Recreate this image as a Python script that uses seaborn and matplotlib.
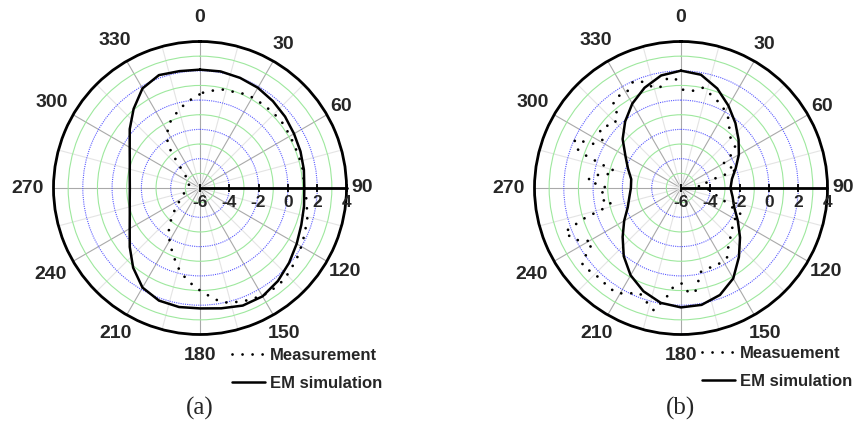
import numpy as np
import pandas as pd
import matplotlib
matplotlib.use("Agg")
import matplotlib.pyplot as plt
import seaborn as sns
from matplotlib.lines import Line2D

# ---------------- data ----------------
sim_angles = list(range(0, 370, 10))  # degrees, closed loop
sim_a = [2.08, 2.08, 2.0, 1.9, 1.74, 1.58, 1.41, 1.3, 1.2, 1.12, 1.21, 1.36,
         1.62, 1.94, 2.28, 2.54, 2.54, 2.34, 2.22, 2.25, 2.18, 1.85, 1.1, 0.26,
         -0.46, -0.9, -1.13, -1.21, -1.13, -0.9, -0.46, 0.26, 1.05, 1.85, 2.2, 2.1,
         2.08]
sim_b = [2.01, 1.85, 1.23, 0.48, -0.22, -0.87, -1.44, -2.02, -2.47, -2.62, -2.42, -2.13,
         -1.52, -0.74, 0.15, 1.13, 1.77, 2.1, 2.15, 1.96, 1.5, 0.88, 0.08, -0.8,
         -1.52, -2.13, -2.42, -2.58, -2.55, -2.15, -1.62, -0.8, -0.07, 0.65, 1.28, 1.8,
         2.01]

meas_a_angles = [1.8, 7.6, 13.2, 19, 24.6, 30.5, 37.2, 44.2, 51.6, 58, 64.2, 71.4, 78.4,
                 83.9, 88.3, 96, 105.2, 111.8, 118.3, 125.4, 132.3, 137.9, 142.9, 147.5,
                 152.4, 157.2, 163.9, 168.6, 173.3, 177.3, 182.9, 189.6, 195.6, 200.6,
                 206.2, 212.3, 218.5, 224, 231.6, 243.4, 296.6, 310.9, 317.6, 320.7,
                 323.3, 328.1, 334.2, 342, 349.9, 356.9, 361.8]
meas_a = [0.51, 0.71, 0.90, 0.95, 1.08, 1.15, 1.14, 1.17, 1.17, 1.11, 1.08, 1.08, 1.13,
          1.10, 1.12, 1.3, 1.60, 1.74, 1.94, 2.15, 2.34, 2.49, 2.51, 2.53,
          2.42, 2.32, 2.13, 1.97, 1.59, 1.20, 0.79, 0.18, -0.38, -0.95,
          -1.50, -2.03, -2.59, -3.24, -3.90, -4.62, -5.23, -4.64, -3.87, -3.08,
          -2.33, -1.73, -1.13, -0.67, -0.16, 0.24, 0.51]

meas_b_angles = [1.2, 7, 12.4, 19.4, 26.6, 33.9, 38.2, 43.9, 52.8, 56.6, 60.3, 68.6, 71.3,
                 73, 73.4, 77.5, 83, 94, 99, 106, 114, 121.6, 128, 135.6, 142, 146.3,
                 154.9, 161.4, 167.3, 169.7, 172.3, 176, 179.4, 184.6, 186.9, 192.5,
                 196.6, 201.3, 206.8, 211, 215.4, 220.7, 226.3, 230.2, 233.2, 235.5,
                 238.5, 241.6, 243.9, 249.2, 250.8, 252.6, 253.8, 255.3, 258.5, 261.4,
                 266.4, 270, 272, 275, 278.7, 279.8, 284.4, 286.1, 287.6, 289, 290.9,
                 294.4, 295.6, 296.8, 302, 305.6, 309.9, 314, 319.2, 320.7, 324.9, 330.4,
                 335, 339, 344, 348.1, 353.3, 357.9]
meas_b = [0.71, 0.69, 1.01, 0.61, 0.28, -0.23, -0.68, -1.16, -1.36, -1.9, -2.69, -2.25,
          -1.95, -2.49, -3.36, -4.1, -4.83, -4.0, -3.78, -3.0, -1.45, -1.82, -1.56, -1.2,
          -0.78, -0.32, -0.18, -0.22, -0.1, 0.54, 1.19, 1.14, 0.51, 0.8, 1.38, 2.56,
          2.15, 1.72, 2.05, 2.39, 2.4, 2.31, 2.33, 2.56, 2.47, 1.73,
          1.07, 1.48, 2.08, 2.5, 1.69, 0.89, 0.14, -0.62, -1.18, -0.53,
          -0.58, -1.0, -0.38, 0.39, -0.11, -0.79, -1.33, -0.58, 0.11, 0.95, 1.7,
          1.97, 1.29, 0.68, 0.25, 0.82, 0.61, 0.3, 0.6, 1.35, 1.62, 1.49,
          1.94, 1.85, 1.19, 1.0, 1.59, 1.4]

angle_labels = ["0", "30", "60", "90", "120", "150", "180", "210", "240", "270", "300", "330"]
angle_ticks = [0, 30, 60, 90, 120, 150, 180, 210, 240, 270, 300, 330]
r_ticks = [-6, -4, -2, 0, 2, 4]
r_minor = [-5, -3, -1, 1, 3]
legend_a = ["Measurement", "EM simulation"]
legend_b = ["Measuement", "EM simulation"]

# ---------------- style ----------------
sns.set_style("white")
plt.rcParams["font.family"] = ["Liberation Sans", "DejaVu Sans"]

W, H = 862, 425
fig = plt.figure(figsize=(W / 100, H / 100), dpi=100)
R = 146.5
CY = 188
label_r_px = [170, 166, 163, 162, 167, 168, 167, 168, 172, 172, 171, 170]
PX_PER_DB = R / 10.0
DOT = (0, (0.01, 3.6))


def make_ax(cx):
    ax = fig.add_axes([(cx - R) / W, (H - CY - R) / H, 2 * R / W, 2 * R / H],
                      projection="polar")
    ax.set_theta_zero_location("N")
    ax.set_theta_direction(-1)
    ax.set_ylim(-6, 4)
    ax.set_xticks(np.deg2rad(angle_ticks))
    ax.set_xticks(np.deg2rad([a + 15 for a in angle_ticks]), minor=True)
    ax.set_xticklabels([])
    ax.set_yticks(r_ticks)
    ax.set_yticks(r_minor, minor=True)
    ax.set_yticklabels([])
    ax.set_yticklabels([], minor=True)
    ax.tick_params(axis="x", which="major", direction="in", length=7, width=1.3, color="k")
    ax.tick_params(axis="x", which="minor", direction="in", length=4, width=1.1, color="k")
    ax.tick_params(axis="y", which="both", length=0)
    ax.xaxis.grid(True, which="major", color="#a9a9a9", lw=0.8)
    ax.xaxis.grid(True, which="minor", color="#e4e4e4", lw=0.8)
    ax.yaxis.grid(True, which="major", color="#5a5aff", lw=0.8, ls=(0, (1, 1)))
    ax.yaxis.grid(True, which="minor", color="#9ee89e", lw=0.8)
    ax.set_axisbelow(True)
    ax.spines["polar"].set_linewidth(2)
    ax.spines["polar"].set_color("k")
    # radial axis along 90 deg
    ax.plot([np.pi / 2, np.pi / 2], [-6, 4], color="k", lw=2, zorder=4, clip_on=False)
    ax.plot([np.pi / 2] * len(r_ticks), r_ticks, ls="none", marker="|", ms=6, mew=1.3,
            color="k", zorder=4, clip_on=False)
    for v in r_ticks:
        ax.annotate(str(v), xy=(np.pi / 2, v), xytext=(0, -5), textcoords="offset points",
                    ha="center", va="top", fontsize=12.5, fontweight="bold",
                    annotation_clip=False, zorder=5)
    for a, lab, rp in zip(angle_ticks, angle_labels, label_r_px):
        ax.text(np.deg2rad(a), -6 + rp / PX_PER_DB, lab, ha="center", va="center",
                fontsize=14, fontweight="bold", clip_on=False)
    return ax


def draw(ax, m_ang, m_val, s_val, labels, lx, ly):
    dfm = pd.DataFrame({"theta": np.deg2rad(m_ang), "r": m_val})
    dfs = pd.DataFrame({"theta": np.deg2rad(sim_angles), "r": s_val})
    sns.lineplot(data=dfm, x="theta", y="r", ax=ax, sort=False, estimator=None,
                 color="k", lw=2.0, linestyle=DOT, dash_capstyle="round",
                 zorder=3)
    sns.lineplot(data=dfs, x="theta", y="r", ax=ax, sort=False, estimator=None,
                 color="k", lw=1.8, zorder=3)
    ax.set_xlabel("")
    ax.set_ylabel("")
    ax.set_ylim(-6, 4)
    handles = [Line2D([], [], color="k", lw=2.0, linestyle=DOT, dash_capstyle="round"),
               Line2D([], [], color="k", lw=1.8)]
    ax.legend(handles, labels, loc="upper left", bbox_to_anchor=(lx / W, 1 - ly / H),
              bbox_transform=fig.transFigure, frameon=False, borderpad=0,
              borderaxespad=0, handlelength=2.0, handletextpad=0.3, labelspacing=0.75,
              prop={"weight": "bold", "size": 12})


ax_a = make_ax(200)
draw(ax_a, meas_a_angles, meas_a, sim_a, legend_a, 232, 348)
ax_b = make_ax(681)
draw(ax_b, meas_b_angles, meas_b, sim_b, legend_b, 702, 346)

fig.text(200 / W, 1 - 408 / H, "(a)", ha="center", va="center", fontsize=18,
         family="Liberation Serif")
fig.text(681 / W, 1 - 408 / H, "(b)", ha="center", va="center", fontsize=18,
         family="Liberation Serif")

fig.savefig("out.png", dpi=100)
